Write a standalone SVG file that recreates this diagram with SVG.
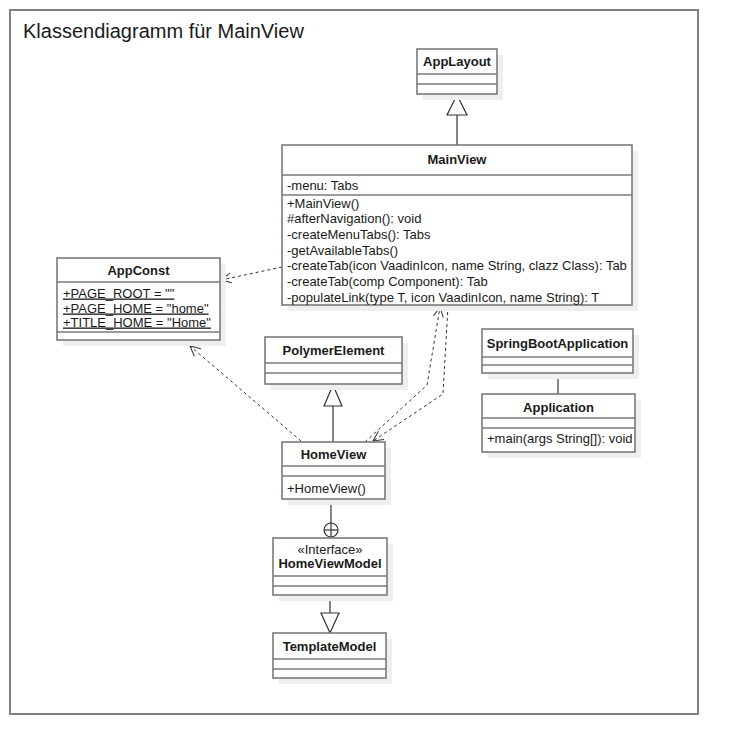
<svg xmlns="http://www.w3.org/2000/svg" width="738" height="754" viewBox="0 0 738 754">
<style>
text{font-family:"Liberation Sans",Arial,sans-serif;font-size:13px;fill:#1a1a1a}
.t{font-weight:bold;text-anchor:middle}
.c{text-anchor:middle}
.u{text-decoration:underline}
.box{fill:#fff;stroke:#7a7a7a;stroke-width:1.6}
.sh{fill:#efefef;stroke:none}
.sep{stroke:#7a7a7a;stroke-width:1.6;fill:none}
.dash{fill:none;stroke:#333;stroke-width:1;stroke-dasharray:3,3}
.solid{fill:none;stroke:#333;stroke-width:1.2}
.tri{fill:#fff;stroke:#333;stroke-width:1.2}
</style>
<defs>
<marker id="open" viewBox="0 0 12 12" refX="11" refY="6" markerWidth="12" markerHeight="12" markerUnits="userSpaceOnUse" orient="auto">
<path d="M1,1 L11,6 L1,11" fill="none" stroke="#333" stroke-width="1"/>
</marker>
</defs>
<rect x="0" y="0" width="738" height="754" fill="#fff"/>
<rect x="10" y="10" width="688" height="704" fill="#fff" stroke="#808080" stroke-width="2"/>
<text x="23" y="38" style="font-size:20px">Klassendiagramm für MainView</text>

<g id="connectors">
<line class="solid" x1="457" y1="115" x2="457" y2="146"/>
<path class="tri" d="M457,95 L467,115 L447,115 Z"/>
<path class="dash" d="M282,267 L221,280" marker-end="url(#open)"/>
<path class="dash" d="M301,441 L190,346" marker-end="url(#open)"/>
<path class="dash" d="M365,442 L427,385 L440,307" marker-end="url(#open)"/>
<path class="dash" d="M448,306 L443,394 L373,441" marker-end="url(#open)"/>
<line class="solid" x1="333" y1="406" x2="333" y2="442"/>
<path class="tri" d="M333,385 L342,406 L324,406 Z"/>
<line class="solid" x1="331" y1="499" x2="331" y2="523"/>
<circle cx="331" cy="530" r="7" fill="#fff" stroke="#333" stroke-width="1.2"/>
<line class="solid" x1="324" y1="530" x2="338" y2="530"/>
<line class="solid" x1="331" y1="523" x2="331" y2="537"/>
<line class="solid" x1="330" y1="595" x2="330" y2="613"/>
<path class="tri" d="M330,633 L339,613 L321,613 Z"/>
<line class="solid" x1="558" y1="373" x2="558" y2="394"/>
</g>

<g id="AppLayout">
<rect class="sh" x="423" y="55" width="80" height="45"/>
<rect class="box" x="417" y="49" width="80" height="45"/>
<line class="sep" x1="417" y1="74" x2="497" y2="74"/>
<line class="sep" x1="417" y1="84" x2="497" y2="84"/>
<text class="t" x="457" y="66">AppLayout</text>
</g>

<g id="MainView">
<rect class="sh" x="288" y="151" width="350" height="160"/>
<rect class="box" x="282" y="145" width="350" height="160"/>
<line class="sep" x1="282" y1="175" x2="632" y2="175"/>
<line class="sep" x1="282" y1="195" x2="632" y2="195"/>
<text class="t" x="457" y="164">MainView</text>
<text x="287" y="189.5">-menu: Tabs</text>
<text x="287" y="207.5">+MainView()</text>
<text x="287" y="223.2">#afterNavigation(): void</text>
<text x="287" y="238.8">-createMenuTabs(): Tabs</text>
<text x="287" y="254.5">-getAvailableTabs()</text>
<text x="287" y="270.2">-createTab(icon VaadinIcon, name String, clazz Class): Tab</text>
<text x="287" y="285.8">-createTab(comp Component): Tab</text>
<text x="287" y="301.5">-populateLink(type T, icon VaadinIcon, name String): T</text>
</g>

<g id="AppConst">
<rect class="sh" x="63" y="264" width="163" height="82"/>
<rect class="box" x="57" y="258" width="163" height="82"/>
<line class="sep" x1="57" y1="282" x2="220" y2="282"/>
<line class="sep" x1="57" y1="332" x2="220" y2="332"/>
<text class="t" x="138.5" y="274.5">AppConst</text>
<text class="u" x="63" y="297.5">+PAGE_ROOT = ""</text>
<text class="u" x="63" y="312.5">+PAGE_HOME = "home"</text>
<text class="u" x="63" y="326.5">+TITLE_HOME = "Home"</text>
</g>

<g id="PolymerElement">
<rect class="sh" x="271" y="343" width="137" height="47"/>
<rect class="box" x="265" y="337" width="137" height="47"/>
<line class="sep" x1="265" y1="363" x2="402" y2="363"/>
<line class="sep" x1="265" y1="373" x2="402" y2="373"/>
<text class="t" x="333.5" y="354.5">PolymerElement</text>
</g>

<g id="HomeView">
<rect class="sh" x="288" y="448" width="103" height="57"/>
<rect class="box" x="282" y="442" width="103" height="57"/>
<line class="sep" x1="282" y1="466" x2="385" y2="466"/>
<line class="sep" x1="282" y1="476" x2="385" y2="476"/>
<text class="t" x="333.5" y="458.5">HomeView</text>
<text x="287" y="492.5">+HomeView()</text>
</g>

<g id="HomeViewModel">
<rect class="sh" x="279" y="544" width="114" height="57"/>
<rect class="box" x="273" y="538" width="114" height="57"/>
<line class="sep" x1="273" y1="576" x2="387" y2="576"/>
<line class="sep" x1="273" y1="586" x2="387" y2="586"/>
<text class="c" x="330" y="553.5">«Interface»</text>
<text class="t" x="330" y="567.5">HomeViewModel</text>
</g>

<g id="TemplateModel">
<rect class="sh" x="279" y="639" width="113" height="45"/>
<rect class="box" x="273" y="633" width="113" height="45"/>
<line class="sep" x1="273" y1="659" x2="386" y2="659"/>
<line class="sep" x1="273" y1="669" x2="386" y2="669"/>
<text class="t" x="329.5" y="650.5">TemplateModel</text>
</g>

<g id="SpringBootApplication">
<rect class="sh" x="488" y="335" width="151" height="44"/>
<rect class="box" x="482" y="329" width="151" height="44"/>
<line class="sep" x1="482" y1="357" x2="633" y2="357"/>
<line class="sep" x1="482" y1="365" x2="633" y2="365"/>
<text class="t" x="557.5" y="347.5">SpringBootApplication</text>
</g>

<g id="Application">
<rect class="sh" x="488" y="400" width="153" height="58"/>
<rect class="box" x="482" y="394" width="153" height="58"/>
<line class="sep" x1="482" y1="418" x2="635" y2="418"/>
<line class="sep" x1="482" y1="428" x2="635" y2="428"/>
<text class="t" x="558.5" y="411.5">Application</text>
<text x="487" y="442.5">+main(args String[]): void</text>
</g>
</svg>
